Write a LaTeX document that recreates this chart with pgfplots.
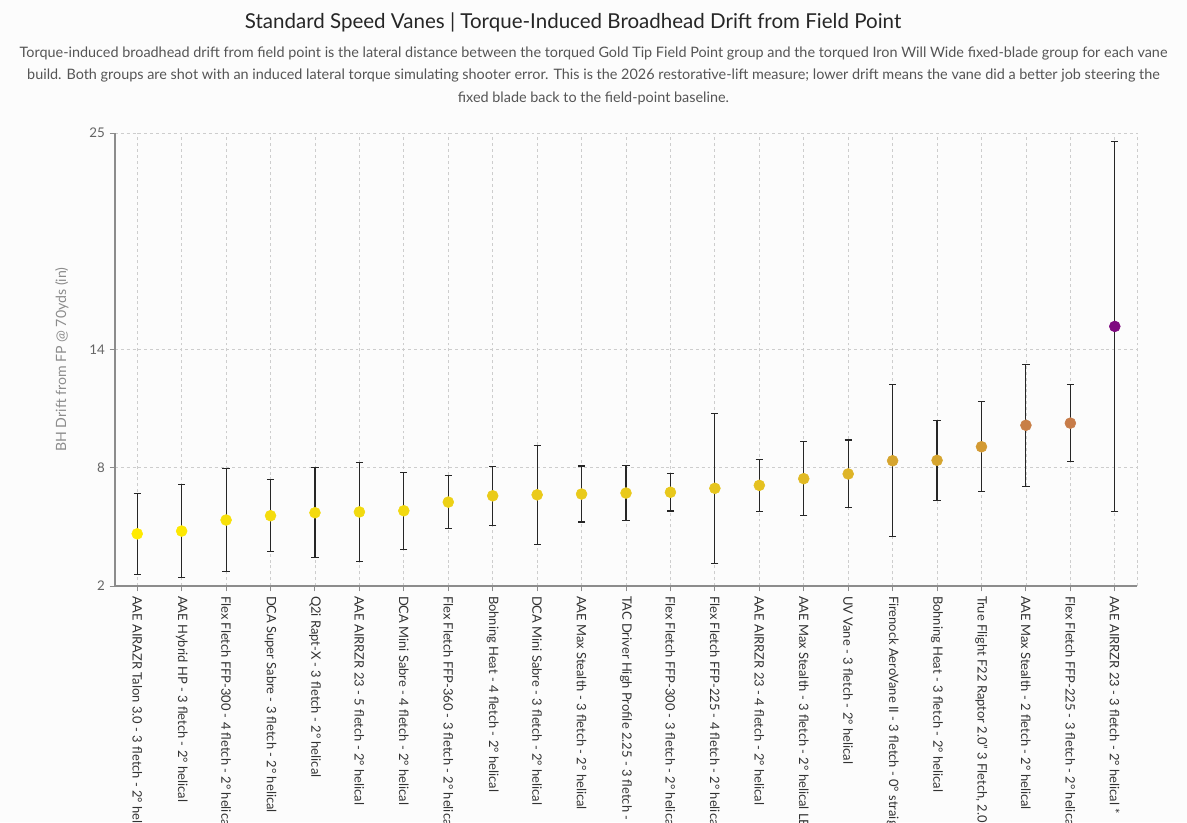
\documentclass[border=0pt]{standalone}
\usepackage{fontspec}
\setmainfont{Lato}
\usepackage{pgfplots}
\usepackage{pgfplotstable}
\pgfplotsset{compat=1.18}
\definecolor{bg}{RGB}{252,252,252}
\definecolor{axgray}{RGB}{140,140,140}
\definecolor{gridgray}{RGB}{205,205,205}
\definecolor{ticktext}{RGB}{100,100,100}
\definecolor{labtext}{RGB}{50,50,50}
\definecolor{subtext}{RGB}{85,85,85}

\pgfplotstableread{
x y e
0 4.65 2.05
1 4.79 2.38
2 5.35 2.63
3 5.57 1.83
4 5.72 2.28
5 5.76 2.50
6 5.82 1.95
7 6.26 1.33
8 6.58 1.50
9 6.63 2.52
10 6.67 1.42
11 6.72 1.41
12 6.76 0.95
13 6.96 3.81
14 7.11 1.32
15 7.45 1.89
16 7.69 1.72
17 8.36 3.85
18 8.38 2.03
19 9.07 2.28
20 10.16 3.10
21 10.27 1.97
22 15.18 9.40
}\drift

\begin{document}
\begin{tikzpicture}
\useasboundingbox[fill=bg] (0,0) rectangle (890.25pt,616.5pt);
\node[font=\fontsize{15.4pt}{18pt}\selectfont, text=black!85] at (429.75pt,600pt) {Standard Speed Vanes | Torque-Induced Broadhead Drift from Field Point};
\node[font=\fontsize{10.8pt}{16.9pt}\selectfont, text=subtext, align=center, anchor=north] at (445.125pt,585pt) {Torque-induced broadhead drift from field point is the lateral distance between the torqued Gold Tip Field Point group and the torqued Iron Will Wide fixed-blade group for each vane\\build. Both groups are shot with an induced lateral torque simulating shooter error. This is the 2026 restorative-lift measure; lower drift means the vane did a better job steering the\\fixed blade back to the field-point baseline.};
\begin{axis}[
  at={(86.25pt,177pt)}, anchor=south west,
  scale only axis, width=766.5pt, height=339.75pt,
  xmin=-0.5, xmax=22.5, ymin=2, ymax=25,
  axis x line*=bottom, axis y line*=left,
  axis line style={-, draw=axgray, line width=1.3pt},
  xtick={0,...,22},
  xticklabels={
    {AAE AIRAZR Talon 3.0 - 3 fletch - 2° helical},
    {AAE Hybrid HP - 3 fletch - 2° helical},
    {Flex Fletch FFP-300 - 4 fletch - 2° helical},
    {DCA Super Sabre - 3 fletch - 2° helical},
    {Q2i Rapt-X - 3 fletch - 2° helical},
    {AAE AIRRZR 23 - 5 fletch - 2° helical},
    {DCA Mini Sabre - 4 fletch - 2° helical},
    {Flex Fletch FFP-360 - 3 fletch - 2° helical},
    {Bohning Heat - 4 fletch - 2° helical},
    {DCA Mini Sabre - 3 fletch - 2° helical},
    {AAE Max Stealth - 3 fletch - 2° helical},
    {TAC Driver High Profile 2.25 - 3 fletch - 2° helical},
    {Flex Fletch FFP-300 - 3 fletch - 2° helical},
    {Flex Fletch FFP-225 - 4 fletch - 2° helical},
    {AAE AIRRZR 23 - 4 fletch - 2° helical},
    {AAE Max Stealth - 3 fletch - 2° helical LEFT},
    {UV Vane - 3 fletch - 2° helical},
    {Firenock AeroVane II - 3 fletch - 0° straight},
    {Bohning Heat - 3 fletch - 2° helical},
    {True Flight F22 Raptor 2.0" 3 Fletch, 2.0 RH helical},
    {AAE Max Stealth - 2 fletch - 2° helical},
    {Flex Fletch FFP-225 - 3 fletch - 2° helical},
    {AAE AIRRZR 23 - 3 fletch - 2° helical *}},
  x tick label style={rotate=-90, anchor=west, font=\fontsize{9.7pt}{11pt}\selectfont, text=labtext},
  ytick={2,8,14,25},
  y tick label style={font=\fontsize{10pt}{11pt}\selectfont, text=ticktext},
  /pgf/number format/assume math mode=true,
  tick align=outside, major tick length=4pt,
  tick style={draw=axgray, line width=0.7pt},
  xmajorgrids, ymajorgrids,
  grid style={draw=gridgray, line width=0.6pt, dash pattern=on 2.2pt off 2.2pt},
  extra x ticks={22.5}, extra x tick labels={},
  extra x tick style={grid=major, major tick length=0pt},
  ylabel={BH Drift from FP @ 70yds (in)},
  ylabel style={at={(axis description cs:-0.052,0.5)}, anchor=center, font=\fontsize{10.6pt}{12pt}\selectfont, text=axgray},
  clip=false,
  colormap={vane}{rgb255(0pt)=(255,234,0) rgb255(11.5pt)=(242,217,16) rgb255(23.5pt)=(230,196,30) rgb255(37pt)=(214,165,47) rgb255(44pt)=(211,154,51) rgb255(55.5pt)=(200,126,72) rgb255(105.3pt)=(127,10,128)},
  point meta min=4.65, point meta max=15.18,
]
\addplot[draw=none, mark=none, forget plot,
  error bars/.cd, y dir=both, y explicit, error mark=-,
  error bar style={draw=black!85, line width=0.85pt},
  error mark options={draw=black!85, line width=0.85pt, mark size=2.7pt, rotate=90}]
  table[x=x, y=y, y error=e] {\drift};
\addplot[scatter, only marks, mark=*, mark size=4.1pt, point meta=\thisrow{y},
  scatter/use mapped color={draw=mapped color, fill=mapped color}]
  table[x=x, y=y] {\drift};
\end{axis}
\end{tikzpicture}
\end{document}
